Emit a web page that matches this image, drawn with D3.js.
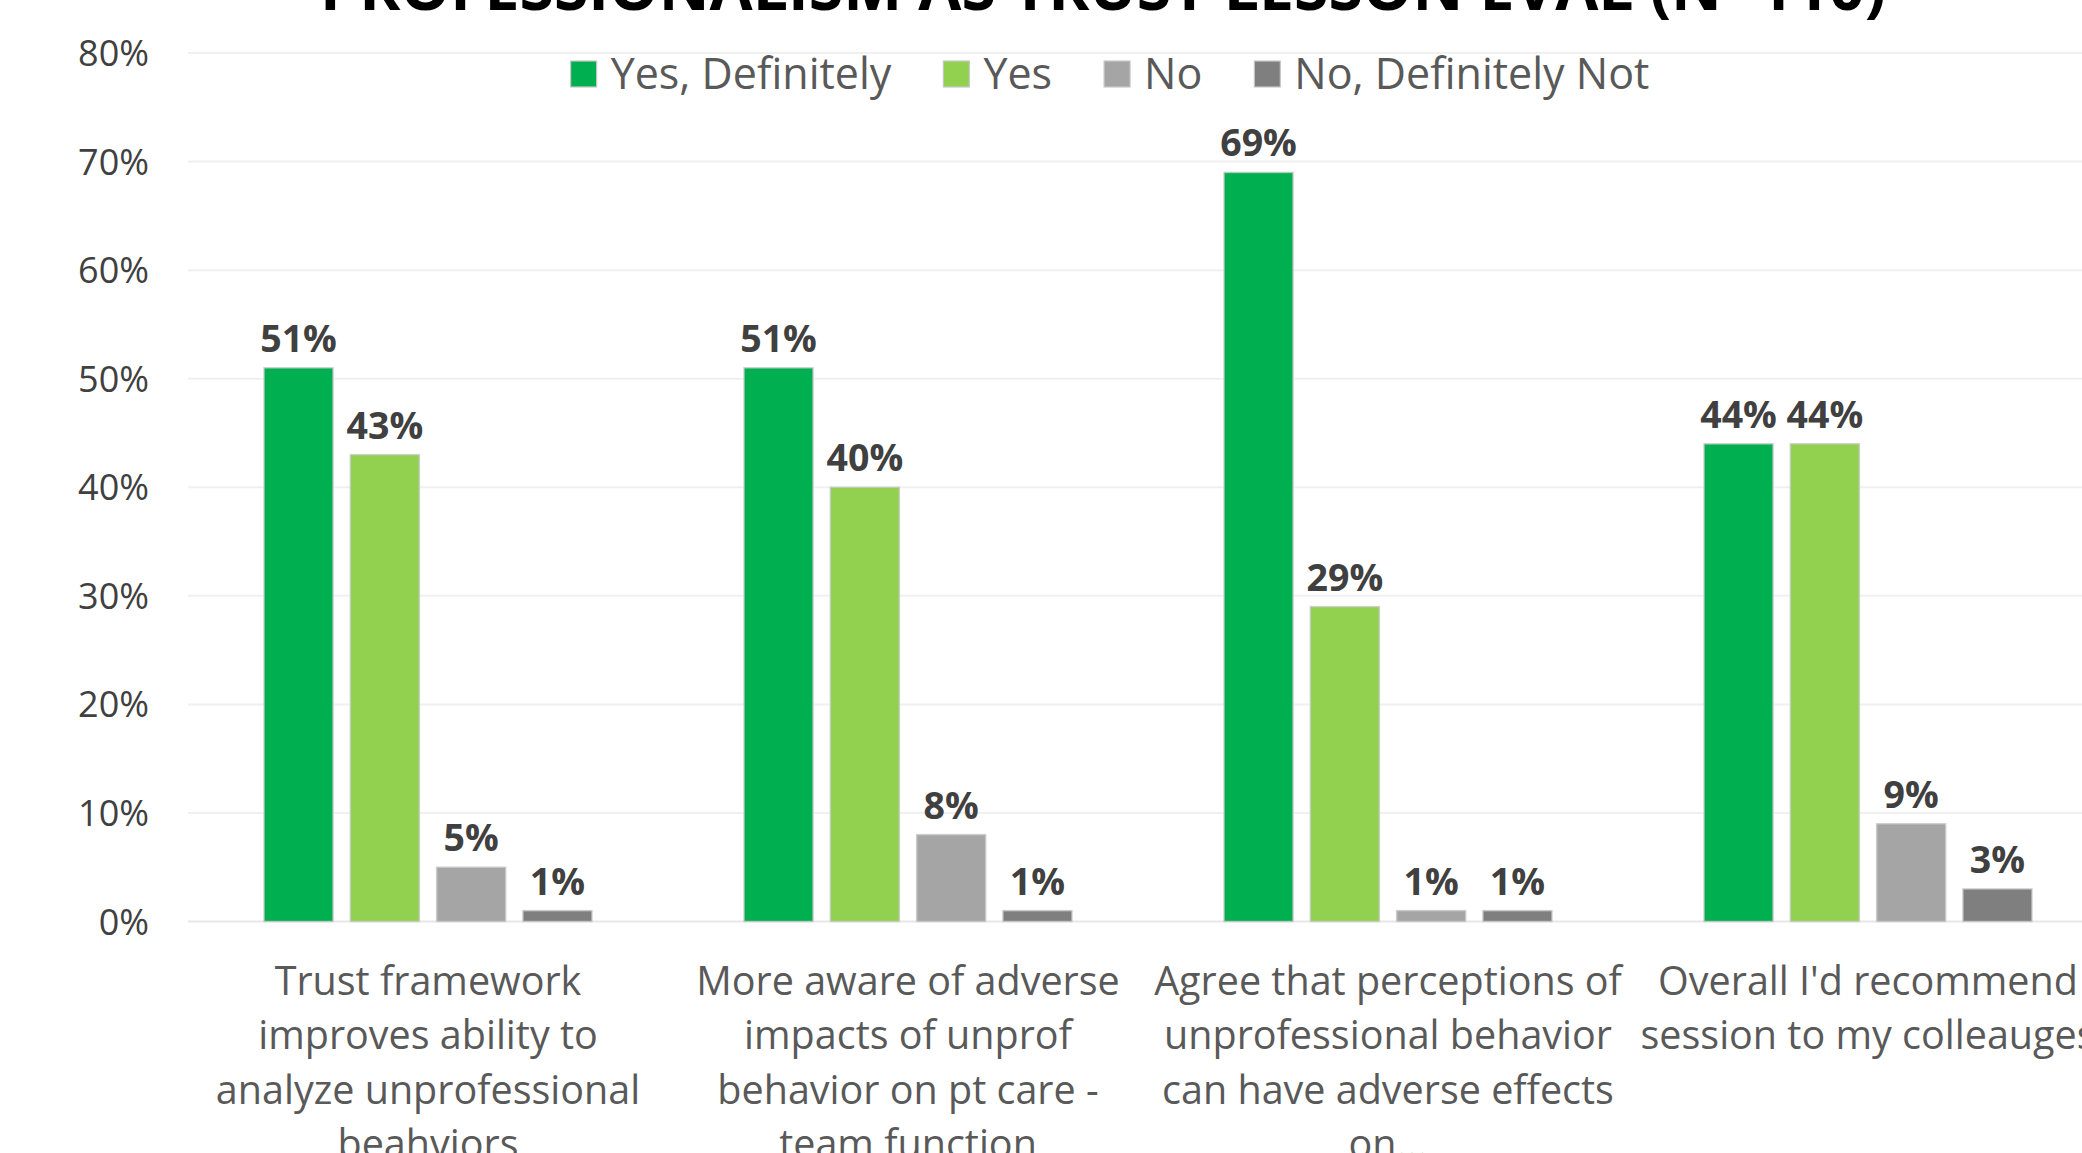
<!DOCTYPE html>
<html>
<head>
<meta charset="utf-8">
<script src="https://cdn.jsdelivr.net/npm/d3@7"></script>
<style>
  html, body { margin: 0; padding: 0; background: #fff; overflow: hidden; }
  svg { display: block; font-family: "Open Sans", sans-serif; }
</style>
</head>
<body>
<svg id="chart" width="2082" height="1153"></svg>
<script>
// Survey questions (x categories), wrapped the way they are printed
const categories = [
  "Trust framework improves ability to analyze unprofessional beahviors",
  "More aware of adverse impacts of unprof behavior on pt care - team function",
  "Agree that perceptions of unprofessional behavior can have adverse effects on...",
  "Overall I'd recommend session to my colleauges"
];
const categoryLines = [
  ["Trust framework", "improves ability to", "analyze unprofessional", "beahviors"],
  ["More aware of adverse", "impacts of unprof", "behavior on pt care -", "team function"],
  ["Agree that perceptions of", "unprofessional behavior", "can have adverse effects", "on..."],
  ["Overall I'd recommend", "session to my colleauges"]
];

// Response series (percent of respondents)
const seriesNames = ["Yes, Definitely", "Yes", "No", "No, Definitely Not"];
const yesDefinitely = [51, 51, 69, 44];
const yes = [43, 40, 29, 44];
const no = [5, 8, 1, 9];
const noDefinitelyNot = [1, 1, 1, 3];
const seriesColors = ["#00B050", "#92D050", "#A5A5A5", "#7F7F7F"];

const yTicks = [0, 10, 20, 30, 40, 50, 60, 70, 80];
const title = "PROFESSIONALISM AS TRUST LESSON EVAL (N=110)";

const seriesValues = [yesDefinitely, yes, no, noDefinitelyNot];
const rows = categories.map((c, i) => ({
  category: c,
  lines: categoryLines[i],
  values: seriesNames.map((s, j) => ({ series: s, value: seriesValues[j][i], color: seriesColors[j] }))
}));

const svg = d3.select("#chart");
const plot = { left: 188, top: 53, bottom: 921.5, band: 480 };

const x0 = d3.scaleBand()
  .domain(categories)
  .range([plot.left, plot.left + plot.band * categories.length])
  .paddingInner(0).paddingOuter(0);

const x1 = d3.scaleBand()
  .domain(seriesNames)
  .range([0, x0.bandwidth()])
  .paddingInner(0.2).paddingOuter(0.881);

const y = d3.scaleLinear().domain([0, 80]).range([plot.bottom, plot.top]);

// Title (top edge sits above the canvas)
svg.append("text")
  .attr("x", 1103).attr("y", 10)
  .attr("text-anchor", "middle")
  .attr("font-size", 62.5).attr("font-weight", 700)
  .attr("fill", "#000")
  .text(title);

// Gridlines
const yAxis = d3.axisLeft(y).tickValues(yTicks).tickFormat(d => d + "%").tickSize(0).tickPadding(0);
const grid = svg.append("g");
grid.selectAll("line").data(yTicks).join("line")
  .attr("x1", plot.left).attr("x2", 2082)
  .attr("y1", d => y(d)).attr("y2", d => y(d))
  .attr("stroke", d => d === 0 ? "#e8e8e8" : "#f0f0f0")
  .attr("stroke-width", 2);

// Y axis labels
const yg = svg.append("g").attr("transform", "translate(149,0)").call(yAxis);
yg.select(".domain").remove();
yg.selectAll("text")
  .attr("font-size", 36).attr("font-family", "Open Sans").attr("fill", "#404040")
  .attr("dy", "0.35em");

// Bars
const groups = svg.append("g").selectAll("g").data(rows).join("g")
  .attr("transform", d => `translate(${x0(d.category)},0)`);

groups.selectAll("rect").data(d => d.values).join("rect")
  .attr("x", d => x1(d.series))
  .attr("width", x1.bandwidth())
  .attr("y", d => y(d.value))
  .attr("height", d => y(0) - y(d.value))
  .attr("fill", d => d.color)
  .attr("stroke", "#c8c8c8")
  .attr("stroke-opacity", 0.8)
  .attr("stroke-width", 1.5);

// Value labels
groups.selectAll("text.val").data(d => d.values).join("text")
  .attr("class", "val")
  .attr("x", d => x1(d.series) + x1.bandwidth() / 2)
  .attr("y", d => y(d.value) - 16)
  .attr("text-anchor", "middle")
  .attr("font-size", 37.5).attr("font-weight", 700)
  .attr("fill", "#404040")
  .text(d => d.value + "%");

// Category labels
const catG = svg.append("g").selectAll("text").data(rows).join("text")
  .attr("x", d => x0(d.category) + x0.bandwidth() / 2)
  .attr("y", 981)
  .attr("text-anchor", "middle")
  .attr("font-size", 39.5)
  .attr("fill", "#595959");
catG.selectAll("tspan").data(d => d.lines).join("tspan")
  .attr("x", function () { return d3.select(this.parentNode).attr("x"); })
  .attr("dy", (d, i) => i === 0 ? "0.35em" : 54.4)
  .text(d => d);

// Legend
const legend = svg.append("g");
const items = legend.selectAll("g").data(seriesNames).join("g");
items.append("rect")
  .attr("width", 26).attr("height", 26)
  .attr("y", 61)
  .attr("fill", (d, i) => seriesColors[i])
  .attr("stroke", "#c8c8c8").attr("stroke-width", 1.2);
items.append("text")
  .attr("x", 40).attr("y", 74).attr("dy", "0.35em")
  .attr("font-size", 43).attr("fill", "#595959")
  .text(d => d);
const widths = [];
items.each(function () {
  widths.push(40 + d3.select(this).select("text").node().getComputedTextLength());
});
const gap = 52;
const total = d3.sum(widths) + gap * (widths.length - 1);
let cursor = 1110 - total / 2;
items.attr("transform", (d, i) => {
  const t = `translate(${cursor},0)`;
  cursor += widths[i] + gap;
  return t;
});
</script>
</body>
</html>
